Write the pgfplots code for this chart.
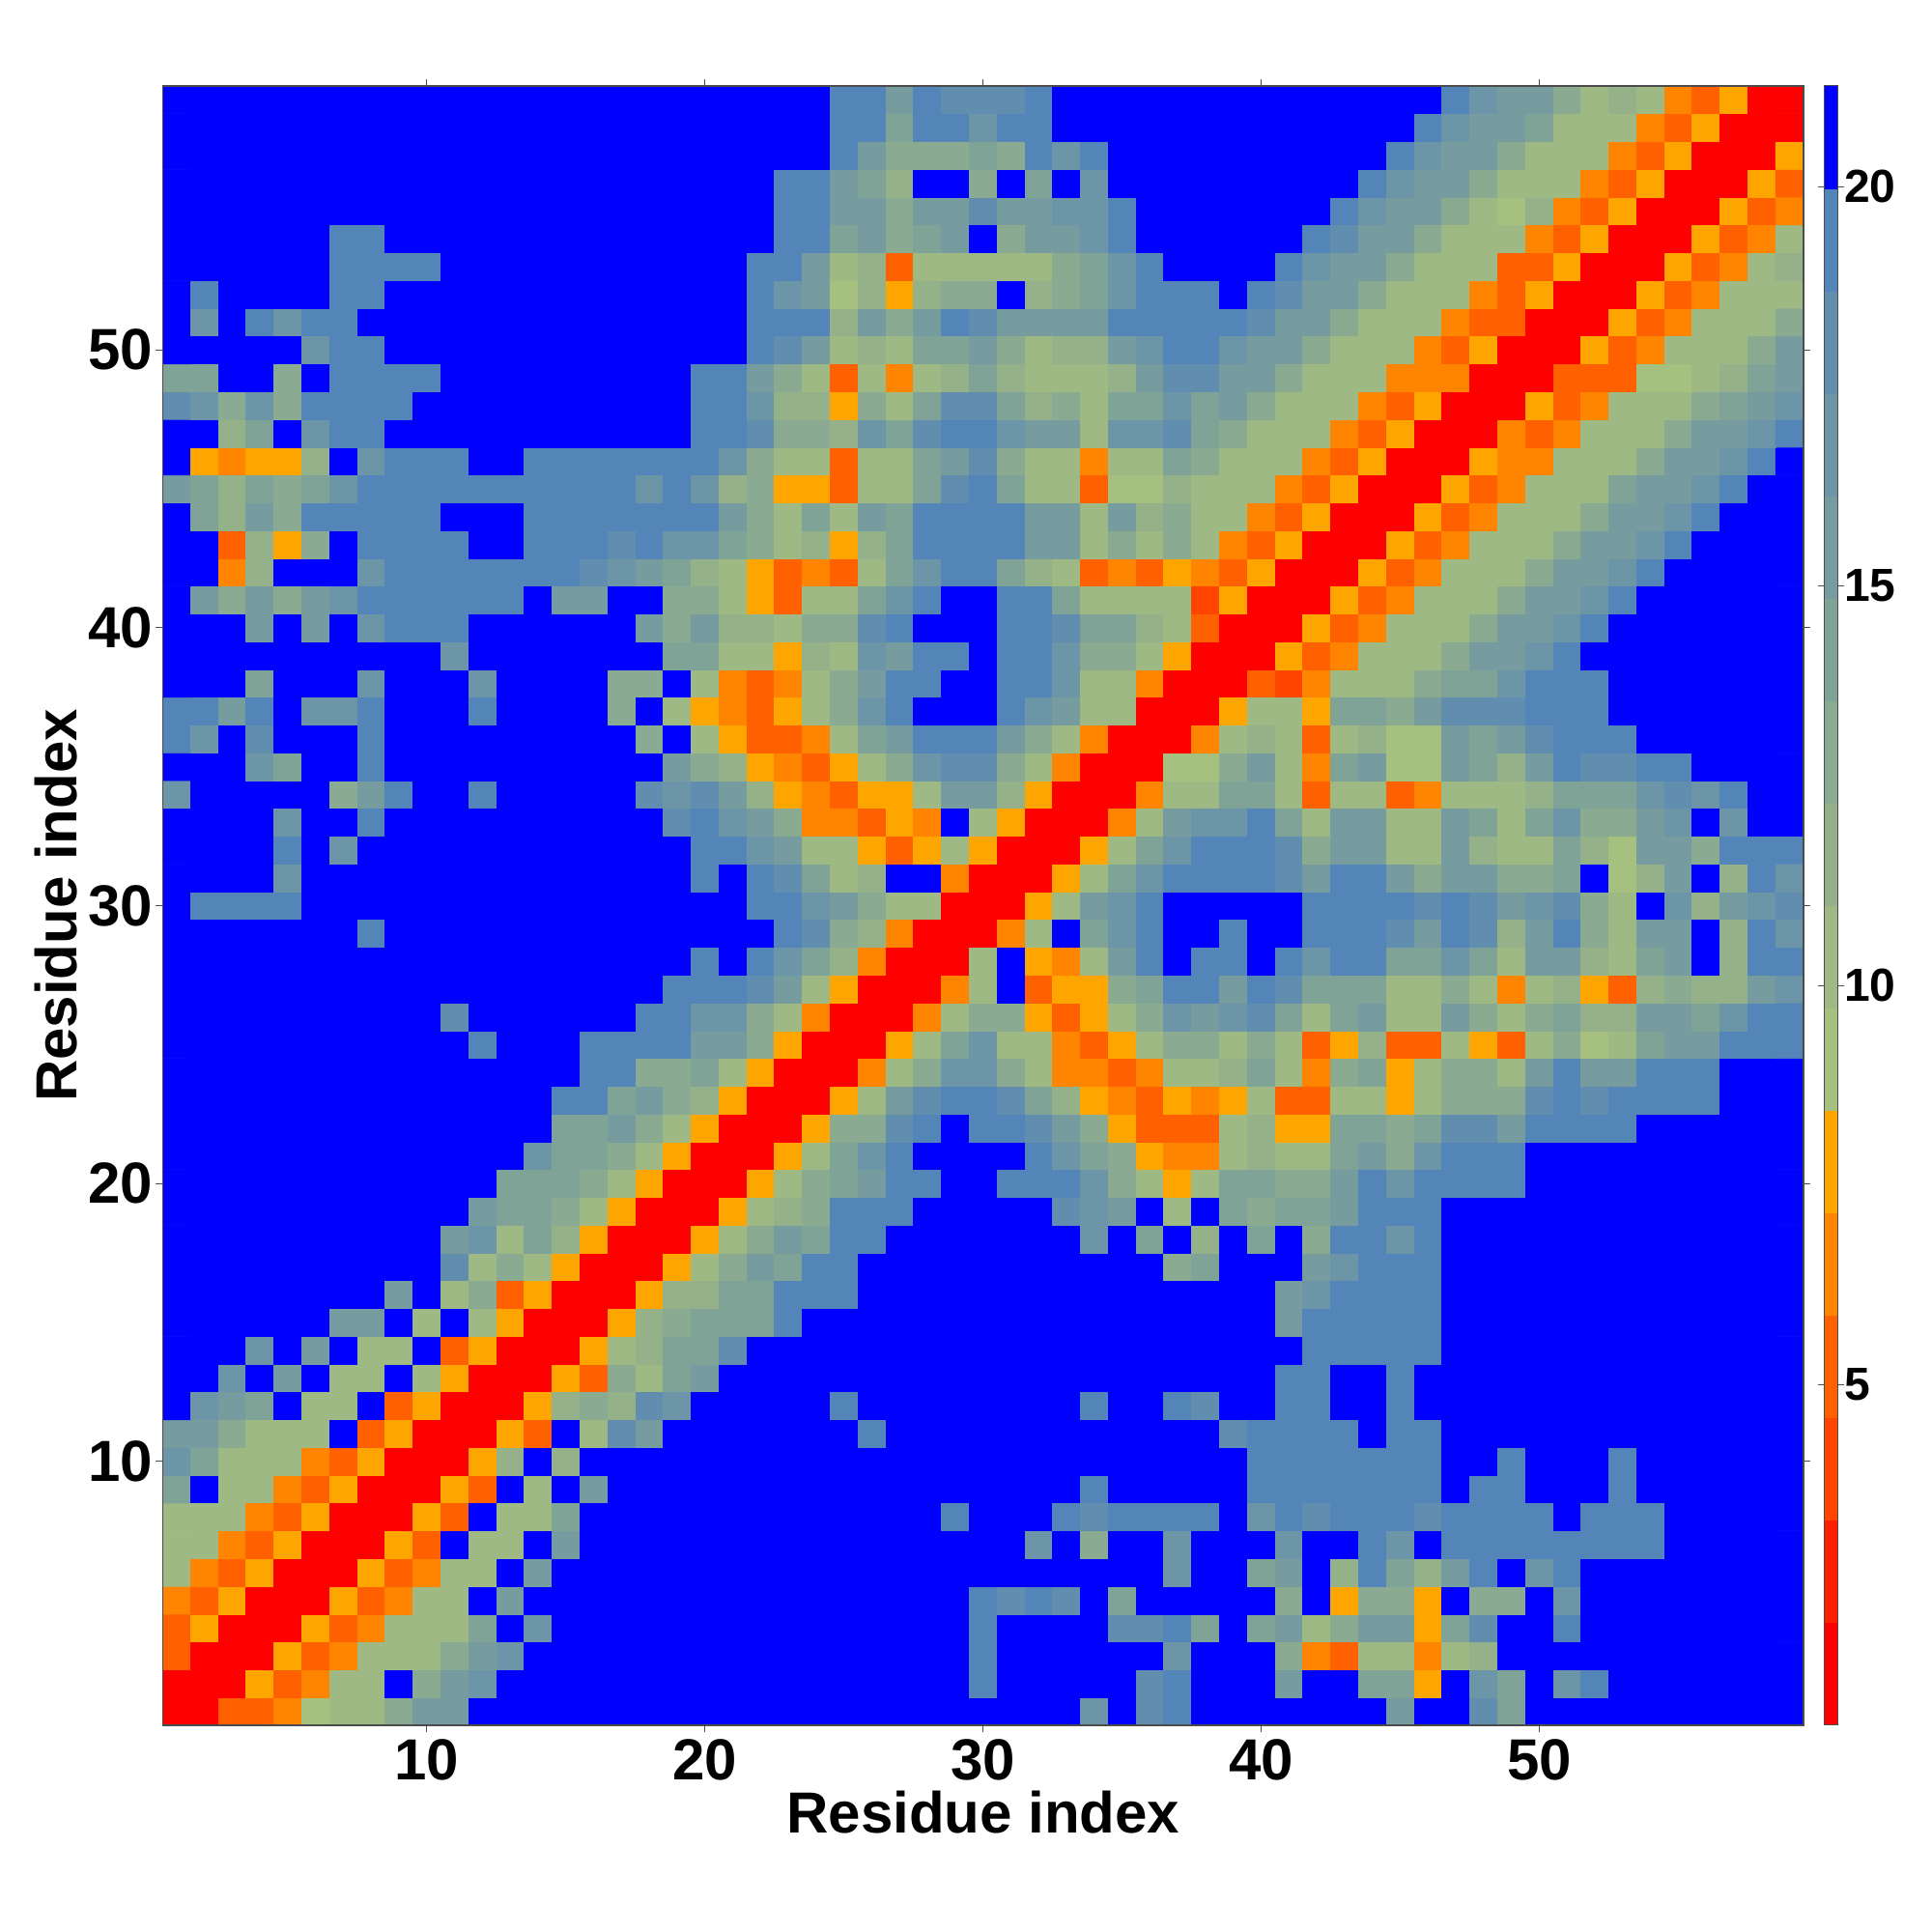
\documentclass[border=0pt]{standalone}
\usepackage{pgfplots}
\usepackage{fontspec}
\setmainfont{Liberation Sans}
\pgfplotsset{compat=1.18}
\newcount\cx
\def\M#1#2#3{\global\cx=#2\relax\foreach \v in {#3}{\expandafter\xdef\csname m#1-\the\cx\endcsname{\v}\global\advance\cx by 1\relax}}
\M{59}{25}{19,19,16,19,18,18,18,19}\M{59}{47}{19,17,16,16,13,10,12,10,7,5,8,1,1}
\M{58}{25}{19,19,14,19,19,17,19,19}\M{58}{46}{19,17,16,16,14,10,10,10,7,5,8,1,1,1}
\M{57}{25}{19,16,13,13,13,14,13,19,17,19}\M{57}{45}{19,17,16,16,13,10,10,10,7,5,8,1,1,1,8}
\M{56}{23}{19,19,16,14,12}\M{56}{30}{13}\M{56}{32}{14}\M{56}{34}{17}\M{56}{44}{19,17,16,16,13,10,10,10,7,5,8,1,1,1,8,5}
\M{55}{23}{19,19,16,16,13,16,16,18,16,16,17,17,19}\M{55}{43}{19,17,16,16,13,10,9,12,7,5,8,1,1,1,8,5,7}
\M{54}{7}{19,19}\M{54}{23}{19,19,14,16,13,14,16}\M{54}{31}{13,16,16,17,19}\M{54}{42}{19,18,16,16,13,10,10,10,7,5,8,1,1,1,8,5,7,10}
\M{53}{7}{19,19,19,19}\M{53}{22}{19,19,16,10,12,5,10,10,10,10,10,13,14,17,19}\M{53}{41}{19,17,16,16,13,10,10,10,5,5,8,1,1,1,8,5,7,10,12}
\M{52}{2}{19}\M{52}{7}{19,19}\M{52}{22}{19,17,16,9,12,8,12,13,13}\M{52}{32}{12,13,14,17,19,19,19}\M{52}{40}{19,18,16,16,13,10,10,10,7,5,8,1,1,1,8,5,7,10,10,10}
\M{51}{2}{17}\M{51}{4}{19,17,19,19}\M{51}{22}{19,19,19,12,16,13,16,19,18,16,16,16,16,19,19,19,19,19}\M{51}{40}{18,16,16,13,10,10,10,7,5,5,1,1,1,8,5,7,10,10,10,13}
\M{50}{6}{17,19,19}\M{50}{22}{19,18,16,10,12,10,14,14,16,13,10,12,12,16,17,19,19,17,16,16,13,10,10,10,7,5,8,1,1,1,8,5,7,10,10,10,13,16}
\M{49}{1}{14,14}\M{49}{5}{13}\M{49}{7}{19,19,19,19}\M{49}{20}{19,19,16,13,10,5,10,7,10,12,14,12,10,10,10,12,16,18,18,16,16,13,10,10,10,7,7,7,1,1,1,5,5,5,9,9,10,12,14,16}
\M{48}{1}{18,17,13,17,13,19,19,19,19}\M{48}{20}{19,19,17,12,12,8,13,10,14,18,18,14,12,13,10,14,14,17,14,16,13,10,10,10,7,5,8,1,1,1,8,5,7,10,10,10,13,14,16,17}
\M{47}{3}{12,14}\M{47}{6}{17,19,19}\M{47}{20}{19,19,18,13,13,12,17,14,18,19,19,17,16,16,10,17,17,18,14,13,10,10,10,7,5,8,1,1,1,7,5,7,10,10,10,13,16,16,17,19}
\M{46}{2}{8,7,8,8,12}\M{46}{8}{17,19,19,19}\M{46}{14}{19,19,19,19,19,19,19,17,13,10,10,5,10,10,14,16,18,13,10,10,7,10,10,14,13,10,10,10,7,5,8,1,1,1,8,7,7,10,10,10,13,16,16,17,19}
\M{45}{1}{16,14,12,14,13,14,17,19,19,19,19,19,19,19,19,19,19,17,19,17,12,13,8,8,5,10,10,14,18,19,14,10,10,5,9,9,12,10,10,10,7,5,8,1,1,1,8,5,7,10,10,10,14,16,16,17,19}
\M{44}{2}{14,12,16,13,19,19,19,19,19}\M{44}{14}{19,19,19,19,19,19,19,16,13,10,14,10,16,14,19,19,19,19,16,16,10,16,12,13,10,10,7,5,8,1,1,1,8,5,7,10,10,10,13,16,16,17,19}
\M{43}{3}{5,12,8,13}\M{43}{8}{19,19,19,19}\M{43}{14}{19,19,19,18,19,17,17,14,13,10,12,8,12,14,19,19,19,19,16,16,10,13,10,13,10,7,5,8,1,1,1,8,5,7,10,10,10,13,16,16,17,19}
\M{42}{3}{7,12}\M{42}{8}{17,19,19,19,19,19,19,19,18,17,16,14,12,10,8,5,7,5,10,14,17,19,19,14,12,10,5,7,5,8,7,5,8,1,1,1,8,5,7,10,10,10,13,16,16,17,19}
\M{41}{2}{16,13,16,13,16,17,19,19,19,19,19,19}\M{41}{15}{16,16}\M{41}{19}{13,13,10,8,5,10,10,14,17,19}\M{41}{31}{19,19,14,10,10,10,10,4,8,1,1,1,8,5,7,10,10,10,13,16,16,17,19}
\M{40}{4}{16}\M{40}{6}{16}\M{40}{8}{17,19,19,19}\M{40}{18}{16,13,16,12,12,10,13,13,18,19}\M{40}{31}{19,19,18,14,14,12,10,5,1,1,1,8,5,7,10,10,10,13,16,16,17,19}
\M{39}{11}{17}\M{39}{19}{14,14,10,10,8,12,10,17,16,19,19}\M{39}{31}{19,19,17,13,13,10,8,1,1,1,8,5,7,10,10,10,13,16,16,17,19}
\M{38}{4}{14}\M{38}{8}{17}\M{38}{12}{17}\M{38}{17}{13,13}\M{38}{20}{10,7,5,7,10,13,16,19,19}\M{38}{31}{19,19,17,10,10,7,1,1,1,5,4,7,10,10,10,13,14,14,17,19,19,19}
\M{37}{1}{19,19,16,19}\M{37}{6}{17,17,19}\M{37}{12}{19}\M{37}{17}{13}\M{37}{19}{10,8,7,5,8,10,13,17,19}\M{37}{31}{19,17,16,10,10,1,1,1,8,10,10,8,14,14,13,16,18,18,18,19,19,19}
\M{36}{1}{19,17}\M{36}{4}{18}\M{36}{8}{19}\M{36}{18}{13}\M{36}{20}{10,8,5,5,7,10,14,16,19,19,19,16,13,10,7,1,1,1,7,10,12,10,5,10,12,9,9,16,14,16,18,19,19,19}
\M{35}{4}{17,14}\M{35}{8}{19}\M{35}{19}{16,13,12,8,7,5,8,10,13,17,18,18,13,10,7,1,1,1,9,9,13,16,10,7,14,16,9,9,16,14,12,16,19,18,18,19,19}
\M{34}{1}{17}\M{34}{7}{13,16,19}\M{34}{12}{19}\M{34}{18}{18,17,18,16,12,8,7,5,8,8,10,16,16,12,8,1,1,1,7,10,10,14,14,10,5,10,10,5,7,10,10,10,12,14,14,14,17,18,17,19}
\M{33}{5}{17}\M{33}{8}{19}\M{33}{19}{18,19,17,16,13,7,7,5,8,7}\M{33}{30}{10,8,1,1,1,7,10,16,17,17,19,14,10,16,16,10,10,16,14,10,14,17,13,13,16,17}\M{33}{57}{17}
\M{32}{5}{19}\M{32}{7}{17}\M{32}{20}{19,19,17,16,10,10,8,5,8,10,8,1,1,1,8,10,14,17,19,19,19,18,13,16,16,10,10,16,12,10,10,14,12,9,16,16,13,19,19,19}
\M{31}{5}{17}\M{31}{20}{19}\M{31}{22}{19,18,14,10,12}\M{31}{29}{7,1,1,1,8,10,14,17,19,19,19,19,18,16,19,19,16,13,16,16,13,13,14}\M{31}{53}{9,12,16}\M{31}{57}{12,19,17}
\M{30}{2}{19,19,19,19}\M{30}{22}{19,19,17,16,13,10,10,1,1,1,8,10,16,17,19}\M{30}{42}{19,19,19,19,18,19,18,16,17,18,13,10}\M{30}{55}{17,12,16,17,18}
\M{29}{8}{19}\M{29}{23}{19,18,13,12,7,1,1,1,7,10}\M{29}{34}{14,17,19}\M{29}{39}{19}\M{29}{42}{19,19,19,18,16,19,18,12,16,19,13,10,16,16}\M{29}{57}{12,19,17}
\M{28}{20}{19}\M{28}{22}{19,17,14,12,7,1,1,1,10}\M{28}{32}{8,7,10,16,19}\M{28}{38}{19,19}\M{28}{41}{19,17,19,19,14,14,17,14,10,16,16,12,10,14,16}\M{28}{57}{12,19,19}
\M{27}{19}{19,19,19,18,16,10,8,1,1,1,7,10}\M{27}{32}{5,8,8,13,14,19,19,16,19,18,14,14,14,10,10,13,10,7,10,12,8,5,12,13,12,12,16,17}
\M{26}{11}{18}\M{26}{18}{19,19,17,17,13,10,7,1,1,1,7,10,13,13,8,5,8,10,13,17,16,17,18,14,10,14,16,10,10,16,13,10,13,14,12,12,16,16,14,17,19,19}
\M{25}{12}{19}\M{25}{16}{19,19,19,19,16,16,13,8,1,1,1,8,10,14,17,10,10,7,5,8,10,13,13,10,13,10,5,8,12,5,5,10,8,5,10,13,9,10,14,16,16,19,19,19}
\M{24}{16}{19,19,13,13,14,10,8,1,1,1,7,10,13,17,17,13,10,7,7,5,7,10,10,12,14,10,7,13,14,8,10,13,13,10,16,19,16,16,19,19,19}
\M{23}{15}{19,19,14,16,13,12,8,1,1,1,8,10,16,18,19,19,18,14,12,8,7,5,8,7,8,10,5,5,10,10,8,10,13,13,13,18,19,18,19,19,19,19}
\M{22}{15}{14,14,16,13,10,8,1,1,1,8,13,13,18,19}\M{22}{30}{19,19,18,16,13,8,5,5,5,10,12,8,8,14,14,13,14,18,18,16,19,19,19,19}
\M{21}{14}{17,14,14,13,10,8,1,1,1,8,10,14,17,19}\M{21}{32}{19,17,14,13,8,7,7,10,12,10,10,14,16,13,17,19,19,19}
\M{20}{13}{14,14,14,13,10,8,1,1,1,8,10,13,14,16,19,19}\M{20}{31}{19,19,19,17,13,10,8,10,14,14,13,13,16,19,17,19,19,19,19}
\M{19}{12}{16,14,14,13,10,8,1,1,1,8,10,12,13,19,19,19}\M{19}{33}{18,17,16}\M{19}{37}{10}\M{19}{39}{14,13,14,14,16,19,19,19}
\M{18}{11}{16,17,10,14,12,8,1,1,1,8,10,13,16,14,19,19}\M{18}{34}{17}\M{18}{36}{14}\M{18}{38}{12}\M{18}{40}{14}\M{18}{42}{13,19,19,17,19}
\M{17}{11}{18,10,13,10,8,1,1,1,8,10,13,16,14,19,19}\M{17}{37}{13,14}\M{17}{42}{16,17,19,19,19}
\M{16}{9}{16}\M{16}{11}{10,13,5,8,1,1,1,8,12,12,14,14,19,19,19}\M{16}{41}{16,17,19,19,19,19}
\M{15}{7}{16,16}\M{15}{10}{10}\M{15}{12}{10,8,1,1,1,8,12,13,14,14,14,19}\M{15}{41}{16,19,19,19,19,19}
\M{14}{4}{17}\M{14}{6}{16}\M{14}{8}{10,10}\M{14}{11}{5,8,1,1,1,8,10,12,14,14,18}\M{14}{42}{19,19,19,19,19}
\M{13}{3}{17}\M{13}{5}{16}\M{13}{7}{10,10}\M{13}{10}{10,8,1,1,1,8,5,13,10,14,16}\M{13}{41}{19,19}\M{13}{45}{19}
\M{12}{2}{17,16,14}\M{12}{6}{10,10}\M{12}{9}{5,8,1,1,1,8,12,13,12,18,17}\M{12}{25}{19}\M{12}{34}{19}\M{12}{37}{19,18}\M{12}{41}{19,19}\M{12}{45}{19}
\M{11}{1}{16,16,13,10,10,10}\M{11}{8}{5,8,1,1,1,8,5}\M{11}{16}{10,18,16}\M{11}{26}{19}\M{11}{39}{18,19,19,19,19}\M{11}{45}{19,19}
\M{10}{1}{17,14,10,10,10,7,5,8,1,1,1,8,12}\M{10}{15}{12}\M{10}{40}{19,19,19,19,19,19,19}\M{10}{49}{19}\M{10}{53}{19}
\M{9}{1}{14}\M{9}{3}{10,10,7,5,8,1,1,1,8,5}\M{9}{14}{10}\M{9}{16}{16}\M{9}{34}{19}\M{9}{40}{19,19,19,19,19,19,19}\M{9}{48}{19,19}\M{9}{53}{19}
\M{8}{1}{10,10,10,7,5,8,1,1,1,8,5}\M{8}{13}{10,10,14}\M{8}{29}{19}\M{8}{33}{19,18,19,19,19,19}\M{8}{40}{17,19,18,19,19,19,18,19,19,19,19}\M{8}{52}{19,19,19}
\M{7}{1}{10,10,7,5,8,1,1,1,8,5}\M{7}{12}{10,10}\M{7}{15}{16}\M{7}{32}{17}\M{7}{34}{13}\M{7}{37}{17}\M{7}{41}{17}\M{7}{44}{19,17}\M{7}{47}{19,19,19,19,19,19,19,19}
\M{6}{1}{10,7,5,8,1,1,1,8,5,7,10,10}\M{6}{14}{16}\M{6}{37}{17}\M{6}{40}{14,16}\M{6}{43}{12,19,14,12,16,19}\M{6}{50}{17,19}
\M{5}{1}{7,5,8,1,1,1,8,5,7,10,10}\M{5}{13}{16}\M{5}{30}{19,18,19,18}\M{5}{35}{14}\M{5}{41}{13}\M{5}{43}{8,13,13,8}\M{5}{48}{13,13}\M{5}{51}{17}
\M{4}{1}{5,8,1,1,1,8,5,7,10,10,10,14}\M{4}{14}{17}\M{4}{30}{19}\M{4}{35}{18,18,19,14}\M{4}{40}{14,16,10,13,16,16,8,14,18}\M{4}{51}{19}
\M{3}{1}{5,1,1,1,8,5,7,10,10,10,13,16,17}\M{3}{30}{19}\M{3}{37}{17}\M{3}{41}{13,7,5,10,10,7,10,12}
\M{2}{1}{1,1,1,8,5,7,10,10}\M{2}{10}{13,16,17}\M{2}{30}{19}\M{2}{36}{18,19}\M{2}{41}{16}\M{2}{44}{14,14,8}\M{2}{48}{17,14}\M{2}{51}{17,19}
\M{1}{1}{1,1,5,5,7,9,10,10,13,16,16}\M{1}{34}{17}\M{1}{36}{18,19}\M{1}{45}{16}\M{1}{48}{18,14}
% full grid: cells not listed above are the blue top level, 21
\gdef\coords{}
\foreach \yy in {1,...,59}{%
  \gdef\rowc{}%
  \foreach \xx in {1,...,59}{%
    \ifcsname m\yy-\xx\endcsname
      \xdef\rowc{\rowc (\xx,\yy) [\csname m\yy-\xx\endcsname]}%
    \else
      \xdef\rowc{\rowc (\xx,\yy) [21]}%
    \fi}%
  \xdef\coords{\coords\rowc}%
}
\pgfplotsset{
  colormap={band}{rgb255=(255,0,0) rgb255=(255,30,0) rgb255=(255,69,0) rgb255=(255,96,0)
   rgb255=(255,133,0) rgb255=(255,165,0) rgb255=(166,192,128) rgb255=(158,185,132)
   rgb255=(148,177,138) rgb255=(138,170,145) rgb255=(128,163,151) rgb255=(118,156,160)
   rgb255=(108,149,167) rgb255=(97,142,175) rgb255=(84,133,185) rgb255=(0,0,255)},
  colormap access=piecewise constant,
}
\begin{document}
\begin{tikzpicture}
\path[use as bounding box] (-84.25pt,-107pt) rectangle (915.75pt,893pt);
\edef\doplot{\noexpand\addplot[matrix plot*, mesh/cols=59, point meta=explicit] coordinates {\coords};}
\begin{axis}[
  at={(0pt,0pt)}, anchor=south west,
  scale only axis, width=849.25pt, height=848.5pt,
  xmin=0.5, xmax=59.5, ymin=0.5, ymax=59.5,
  xtick={10,20,30,40,50}, ytick={10,20,30,40,50},
  tick align=outside, major tick length=3.5pt,
  tick style={line width=0.5pt, color=black!70},
  axis line style={line width=0.6pt, color=black!70},
  axis on top,
  tick label style={font=\fontsize{30}{30}\selectfont\bfseries, /pgf/number format/assume math mode=true},
  xticklabel style={inner sep=0pt, yshift=-3.5pt},
  yticklabel style={inner sep=0pt, xshift=-1.5pt},
  xlabel={Residue index}, ylabel={Residue index},
  label style={font=\fontsize{30}{30}\selectfont\bfseries},
  xlabel style={at={(axis description cs:0.5,0)}, anchor=center, yshift=-45pt},
  ylabel style={at={(axis description cs:0,0.5)}, anchor=center, rotate=0, yshift=55pt},
  point meta min=0.74, point meta max=21.26,
  colorbar,
  colorbar style={
    at={(1.0124,0)}, anchor=south west,
    width=7.4pt, height=848.5pt,
    ytick={5,10,15,20},
    ymin=0.74, ymax=21.26,
    yticklabel pos=right,
    tick align=outside, major tick length=3pt,
    tick style={line width=0.4pt, color=black!70},
    axis line style={line width=0.5pt, color=black!70},
    yticklabel style={font=\fontsize{24}{24}\selectfont\bfseries, /pgf/number format/assume math mode=true, inner sep=0pt, xshift=0pt},
  },
]
\doplot
\end{axis}
\end{tikzpicture}
\end{document}
